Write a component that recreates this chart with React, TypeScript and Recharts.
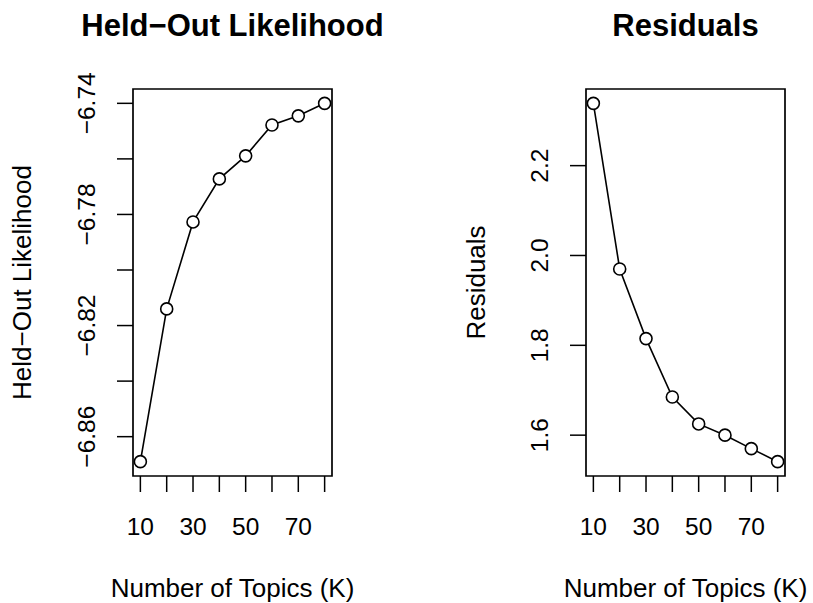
import React from 'react';
import { LineChart, Line, XAxis, YAxis, ReferenceArea } from 'recharts';

const topics = [10, 20, 30, 40, 50, 60, 70, 80];
const heldOut = [-6.869, -6.814, -6.7827, -6.7672, -6.7589, -6.7478, -6.7445, -6.74];
const residuals = [2.3387, 1.97, 1.815, 1.685, 1.625, 1.6, 1.57, 1.541];

const xTicks = [10, 20, 30, 40, 50, 60, 70, 80];
const xTickLabels = [10, 30, 50, 70];
const heldTicks = [-6.86, -6.84, -6.82, -6.8, -6.78, -6.76, -6.74];
const heldTickLabels = [-6.86, -6.82, -6.78, -6.74];
const resTicks = [1.6, 1.8, 2.0, 2.2];
const resTickLabels = [1.6, 1.8, 2.0, 2.2];

const FONT = '"Liberation Sans", Arial, Helvetica, sans-serif';
const HELD_TITLE = 'Held\u2212Out Likelihood';
const RES_TITLE = 'Residuals';
const X_TITLE = 'Number of Topics (K)';

const heldData = topics.map((k, i) => ({ k, v: heldOut[i] }));
const resData = topics.map((k, i) => ({ k, v: residuals[i] }));

function rDomain(vals: number[]): [number, number] {
  const mn = Math.min(...vals);
  const mx = Math.max(...vals);
  const pad = (mx - mn) * 0.04;
  return [mn - pad, mx + pad];
}

const xDomain = rDomain(topics);
const heldDomain = rDomain(heldOut);
const resDomain = rDomain(residuals);

const has = (arr: number[], v: number) => arr.some((a) => Math.abs(a - v) < 1e-9);

const fmtHeld = (v: number) => (v < 0 ? '\u2212' : '') + Math.abs(v).toFixed(2);
const fmtRes = (v: number) => v.toFixed(1);

const makeXTick = (props: any) => {
  const { x, y, payload } = props;
  if (!has(xTickLabels, payload.value)) return <g />;
  return (
    <text x={x} y={y} textAnchor="middle" fontFamily={FONT} fontSize={24.5} fill="#000">
      {String(payload.value)}
    </text>
  );
};

const makeYTick = (labels: number[], fmt: (v: number) => string) => (props: any) => {
  const { x, y, payload } = props;
  if (!has(labels, payload.value)) return <g />;
  return (
    <text
      x={x}
      y={y}
      transform={`rotate(-90 ${x} ${y})`}
      textAnchor="middle"
      fontFamily={FONT}
      fontSize={24.5}
      fill="#000"
    >
      {fmt(payload.value)}
    </text>
  );
};

type PanelProps = {
  width: number;
  marginLeft: number;
  marginRight: number;
  data: { k: number; v: number }[];
  yDomain: [number, number];
  yTicks: number[];
  yTick: (p: any) => React.ReactElement;
  title: string;
  yLabel: string;
  yLabelX: number;
};

const Panel = ({ width, marginLeft, marginRight, data, yDomain, yTicks, yTick, title, yLabel, yLabelX }: PanelProps) => {
  const plotLeft = marginLeft + 100;
  const plotRight = width - marginRight;
  const cx = (plotLeft + plotRight) / 2;
  const cy = (89 + 476) / 2;
  return (
    <LineChart
      width={width}
      height={603}
      data={data}
      margin={{ top: 89, right: marginRight, bottom: 27, left: marginLeft }}
      style={{ overflow: 'visible' }}
    >
      <XAxis
        dataKey="k"
        type="number"
        domain={xDomain}
        ticks={xTicks}
        interval={0}
        allowDataOverflow
        axisLine={false}
        tickLine={{ stroke: '#000', strokeWidth: 1.5 }}
        tickSize={16}
        tickMargin={43}
        height={100}
        tick={makeXTick}
      />
      <YAxis
        type="number"
        domain={yDomain}
        ticks={yTicks}
        interval={0}
        allowDataOverflow
        axisLine={false}
        tickLine={{ stroke: '#000', strokeWidth: 1.5 }}
        tickSize={16}
        tickMargin={22}
        width={100}
        tick={yTick}
      />
      <ReferenceArea
        x1={xDomain[0]}
        x2={xDomain[1]}
        y1={yDomain[0]}
        y2={yDomain[1]}
        fill="none"
        fillOpacity={0}
        stroke="#000"
        strokeWidth={1.7}
        strokeOpacity={1}
        ifOverflow="visible"
      />
      <Line
        dataKey="v"
        stroke="#000"
        strokeWidth={1.6}
        isAnimationActive={false}
        dot={{ r: 6, stroke: '#000', strokeWidth: 1.6, fill: '#fff' }}
        activeDot={false}
      />
      <text x={cx} y={36} textAnchor="middle" fontFamily={FONT} fontSize={31} fontWeight="bold" fill="#000">
        {title}
      </text>
      <text x={cx} y={597} textAnchor="middle" fontFamily={FONT} fontSize={26} fill="#000">
        {X_TITLE}
      </text>
      <text
        x={yLabelX}
        y={cy}
        transform={`rotate(-90 ${yLabelX} ${cy})`}
        textAnchor="middle"
        fontFamily={FONT}
        fontSize={26}
        fill="#000"
      >
        {yLabel}
      </text>
    </LineChart>
  );
};

export default function App() {
  return (
    <div style={{ position: 'absolute', left: 0, top: 0, width: 813, height: 603, background: '#fff' }}>
      <div style={{ position: 'absolute', left: 0, top: 0 }}>
        <Panel
          width={420}
          marginLeft={33}
          marginRight={88}
          data={heldData}
          yDomain={heldDomain}
          yTicks={heldTicks}
          yTick={makeYTick(heldTickLabels, fmtHeld)}
          title={HELD_TITLE}
          yLabel={HELD_TITLE}
          yLabelX={31}
        />
      </div>
      <div style={{ position: 'absolute', left: 420, top: 0 }}>
        <Panel
          width={393}
          marginLeft={66}
          marginRight={28}
          data={resData}
          yDomain={resDomain}
          yTicks={resTicks}
          yTick={makeYTick(resTickLabels, fmtRes)}
          title={RES_TITLE}
          yLabel={RES_TITLE}
          yLabelX={65}
        />
      </div>
    </div>
  );
}
